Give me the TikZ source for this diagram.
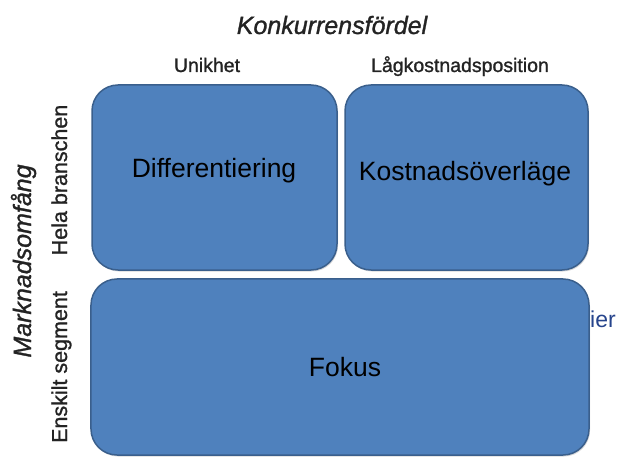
\documentclass[tikz,border=0pt]{standalone}
\usepackage{fontspec}
\setmainfont{Liberation Sans}
\newfontfamily\labelfont[FakeBold=1.2]{Liberation Sans}
\usetikzlibrary{shadows}

\definecolor{boxfill}{RGB}{79,129,189}
\definecolor{boxedge}{RGB}{58,95,140}
\definecolor{linkblue}{RGB}{38,68,140}
\definecolor{labelgray}{RGB}{35,35,35}

\tikzset{
  quadrant/.style={draw=boxedge, line width=1.5bp, fill=boxfill,
    rounded corners=26bp, inner sep=0pt,
    drop shadow={opacity=0.3, shadow xshift=1bp, shadow yshift=-1.5bp}},
  boxtext/.style={font=\fontsize{26.5bp}{30bp}\selectfont, text=black,
    anchor=base, inner sep=0pt},
  axistitle/.style={font=\labelfont\fontsize{25bp}{28bp}\selectfont\itshape,
    text=labelgray, anchor=base, inner sep=0pt},
  toplabel/.style={font=\labelfont\fontsize{19.5bp}{22bp}\selectfont,
    text=labelgray, anchor=base, inner sep=0pt},
  sidelabel/.style={font=\labelfont\fontsize{21.5bp}{24bp}\selectfont,
    text=labelgray, anchor=base, inner sep=0pt, rotate=90},
  linktext/.style={font=\fontsize{23bp}{26bp}\selectfont, text=linkblue,
    anchor=base west, inner sep=0pt},
}

\begin{document}
\begin{tikzpicture}[x=1bp, y=-1bp]
  \useasboundingbox (0,0) rectangle (623,457);

  % text running out from behind the focus box
  \node[linktext] (tail) at (590,327) {ier};

  % the three strategy boxes
  \node[quadrant, minimum width=245bp, minimum height=185bp]
    (diff) at (214.5,177.5) {};
  \node[quadrant, minimum width=243bp, minimum height=185bp]
    (cost) at (466.5,177.5) {};
  \node[quadrant, minimum width=498bp, minimum height=176bp]
    (focus) at (340,367) {};

  \node[boxtext] (diffT) at (214,178) {Differentiering};
  \node[boxtext] (costT) at (465,181) {Kostnadsöverläge};
  \node[boxtext] (focusT) at (345,376) {Fokus};

  % horizontal axis: competitive advantage
  \node[axistitle] (advT) at (332,34) {Konkurrensfördel};
  \node[toplabel] (uniq) at (207,72) {Unikhet};
  \node[toplabel] (lowc) at (460,72) {Lågkostnadsposition};

  % vertical axis: market scope
  \node[axistitle, rotate=90] (scopeT) at (31,261) {Marknadsomfång};
  \node[sidelabel] (whole) at (67,180) {Hela branschen};
  \node[sidelabel] (seg) at (67,367) {Enskilt segment};
\end{tikzpicture}
\end{document}
